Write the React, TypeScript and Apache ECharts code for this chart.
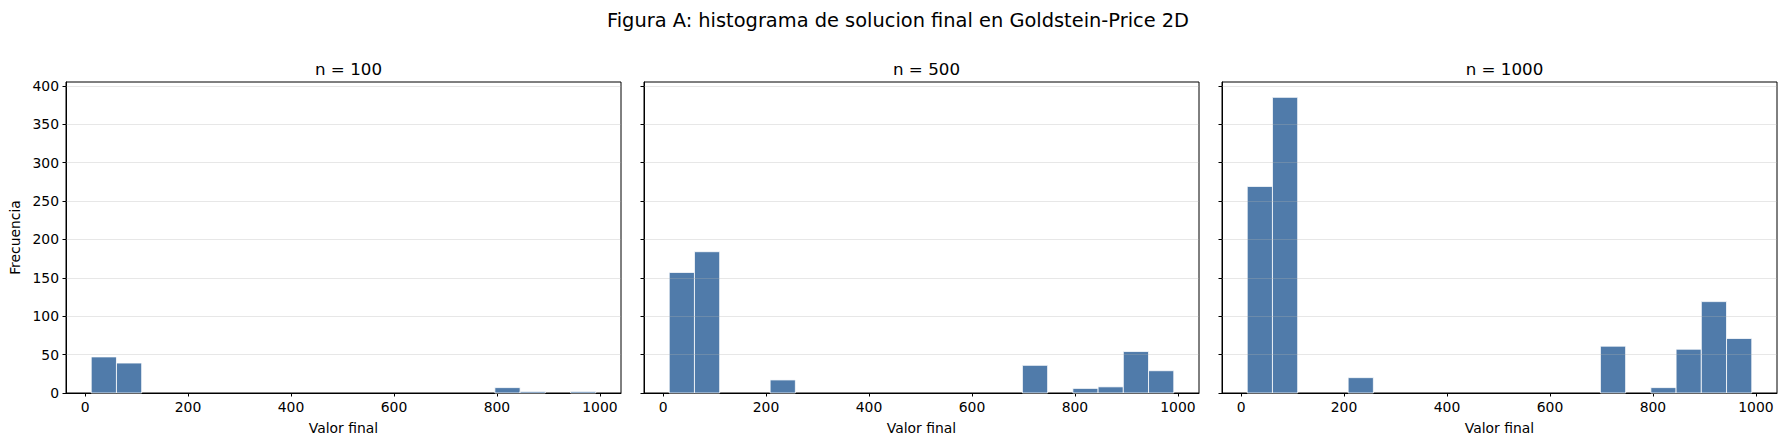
import React, { useEffect, useRef } from "react";
import * as echarts from "echarts";

const suptitle = "Figura A: histograma de solucion final en Goldstein-Price 2D";
const panelTitles = ["n = 100", "n = 500", "n = 1000"];
const xLabel = "Valor final";
const yLabel = "Frecuencia";

const binEdges = [12, 61, 110, 159, 208, 257, 306, 355, 404, 453, 502, 551, 600, 649, 698, 747, 796, 845, 894, 943, 992];
const counts100 = [47, 39, 0, 0, 0, 0, 0, 0, 0, 0, 0, 0, 0, 0, 0, 0, 7, 2, 0, 2];
const counts500 = [157, 184, 0, 0, 17, 0, 0, 0, 0, 0, 0, 0, 0, 0, 36, 0, 6, 8, 54, 29];
const counts1000 = [269, 385, 0, 0, 20, 0, 0, 0, 0, 0, 0, 0, 0, 0, 61, 0, 7, 57, 119, 71];

const xTicks = [0, 200, 400, 600, 800, 1000];
const yTicks = [0, 50, 100, 150, 200, 250, 300, 350, 400];

const FONT = "DejaVu Sans";
const BAR = "#4c78a8";

export default function App() {
  const ref = useRef<HTMLDivElement>(null);
  useEffect(() => {
    document.body.style.margin = "0";
    const chart = echarts.init(ref.current!, null, { renderer: "svg" });
    const allCounts = [counts100, counts500, counts1000];
    const lefts = [66, 644, 1222];
    const gw = 555;
    const top = 82;
    const gh = 311;

    const grids = lefts.map((l) => ({
      left: l,
      top,
      width: gw,
      height: gh,
      show: true,
      borderColor: "#000",
      borderWidth: 1,
      backgroundColor: "transparent",
    }));

    const xAxes = lefts.map((_, i) => ({
      type: "value",
      gridIndex: i,
      min: -37,
      max: 1041,
      name: xLabel,
      nameLocation: "middle",
      nameGap: 28,
      nameTextStyle: { fontFamily: FONT, fontSize: 13.9, color: "#000" },
      axisLine: { show: true, onZero: false, lineStyle: { color: "#000", width: 1 } },
      axisTick: { show: true, length: 3.5, customValues: xTicks, lineStyle: { color: "#000", width: 1 } },
      axisLabel: {
        show: true,
        customValues: xTicks,
        margin: 7,
        fontFamily: FONT,
        fontSize: 13.9,
        color: "#000",
        formatter: (v: number) => String(v),
      },
      splitLine: { show: false },
    }));

    const yAxes = lefts.map((_, i) => ({
      type: "value",
      gridIndex: i,
      min: 0,
      max: 405,
      name: i === 0 ? yLabel : "",
      nameLocation: "middle",
      nameGap: 44,
      nameTextStyle: { fontFamily: FONT, fontSize: 13.9, color: "#000" },
      axisLine: { show: true, onZero: false, lineStyle: { color: "#000", width: 1 } },
      axisTick: { show: true, length: 3.5, customValues: yTicks, lineStyle: { color: "#000", width: 1 } },
      axisLabel: {
        show: i === 0,
        customValues: yTicks,
        margin: 7,
        fontFamily: FONT,
        fontSize: 13.9,
        color: "#000",
        formatter: (v: number) => String(v),
      },
      splitLine: { show: false },
    }));

    const series = allCounts.map((counts, i) => ({
      type: "custom",
      xAxisIndex: i,
      yAxisIndex: i,
      encode: { x: [0, 1], y: 2 },
      data: counts
        .map((c, k) => [binEdges[k], binEdges[k + 1], c])
        .filter((d) => d[2] > 0),
      renderItem: (params: any, api: any) => {
        const p0 = api.coord([api.value(0), api.value(2)]);
        const p1 = api.coord([api.value(1), 0]);
        return {
          type: "rect",
          shape: { x: p0[0], y: p0[1], width: p1[0] - p0[0], height: p1[1] - p0[1] },
          style: { fill: BAR, stroke: "#fff", lineWidth: 0.8, opacity: 0.98 },
        };
      },
      markLine: {
        silent: true,
        symbol: "none",
        animation: false,
        label: { show: false },
        lineStyle: { color: "#b0b0b0", opacity: 0.3, width: 1, type: "solid" },
        data: yTicks.filter((v) => v > 0).map((v) => ({ yAxis: v })),
      },
    }));

    const titles: any[] = [
      {
        text: suptitle,
        left: 893,
        top: 6,
        textAlign: "center",
        textStyle: { fontFamily: FONT, fontSize: 19.4, fontWeight: "normal", color: "#000" },
      },
      ...lefts.map((l, i) => ({
        text: panelTitles[i],
        left: l + gw / 2,
        top: 55,
        textAlign: "center",
        textStyle: { fontFamily: FONT, fontSize: 16.7, fontWeight: "normal", color: "#000" },
      })),
    ];

    chart.setOption({
      animation: false,
      backgroundColor: "#fff",
      title: titles,
      grid: grids,
      xAxis: xAxes,
      yAxis: yAxes,
      series,
    });
    return () => chart.dispose();
  }, []);
  return <div ref={ref} style={{ width: 1787, height: 446 }} />;
}
